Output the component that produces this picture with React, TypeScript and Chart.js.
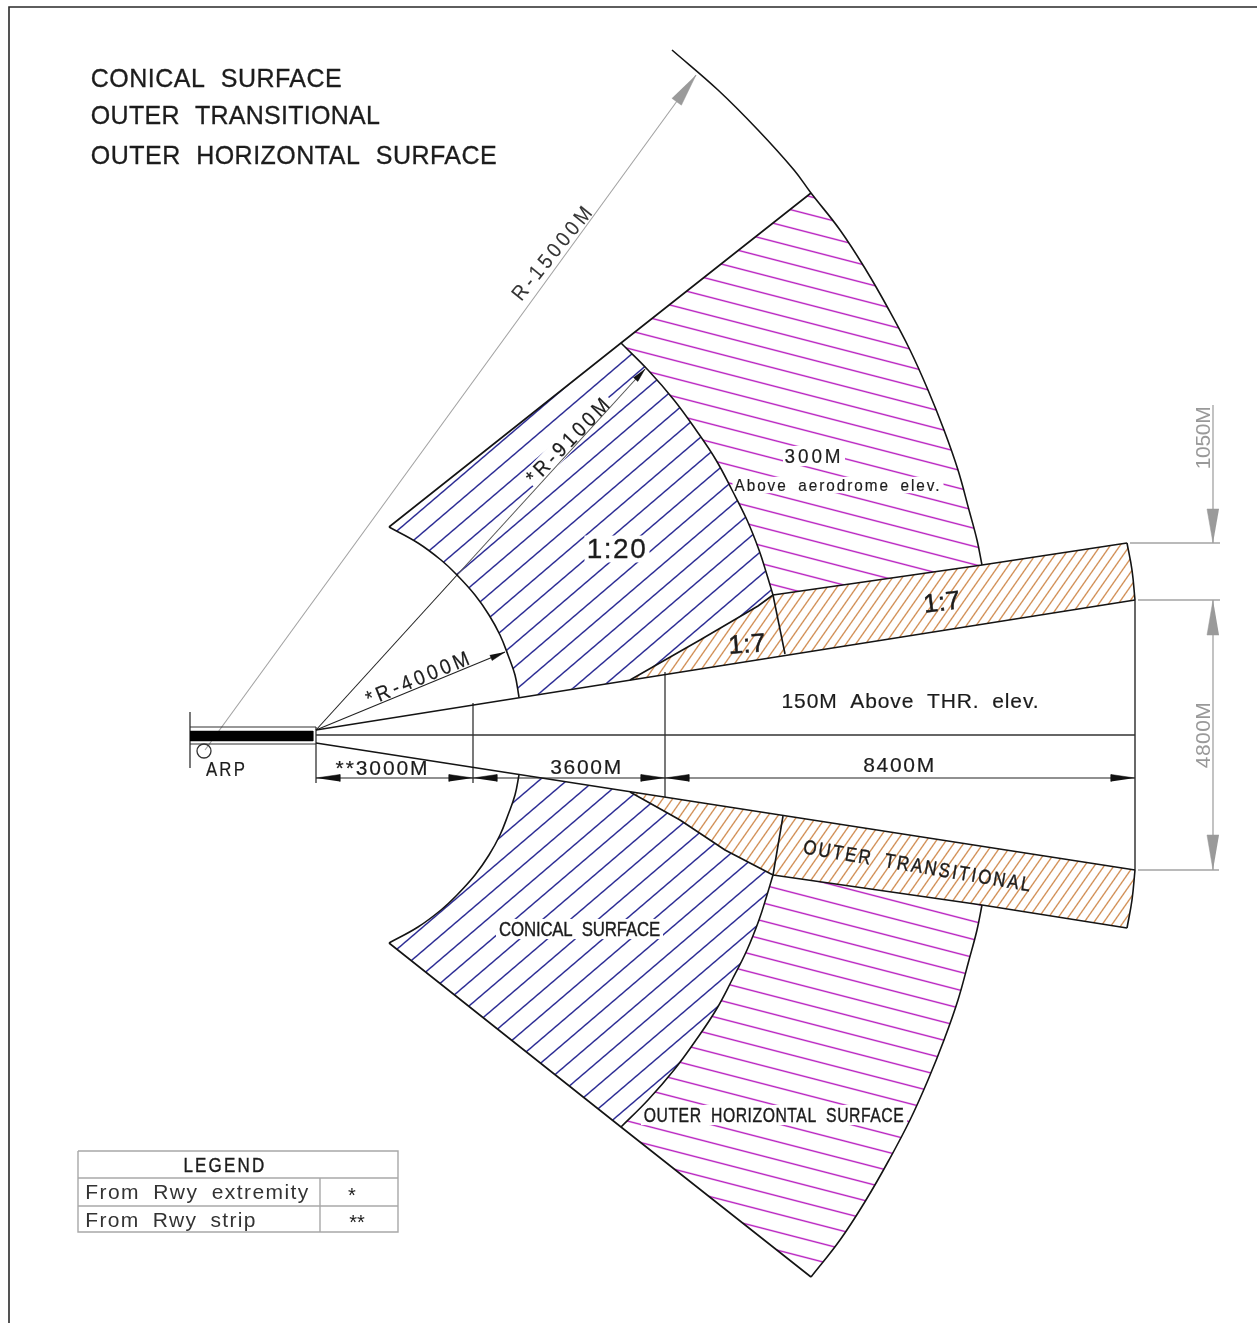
import React, { useEffect, useRef } from "react";
import { Chart, registerables } from "chart.js";

Chart.register(...registerables);

type P = [number, number];

// Diagram geometry (x to the right, y downwards)
const outerArcUpper: P[] = [[672,50],[718,90],[758,130],[794,170],[811,193],[840,230],[866,270],[889,310],[910,350],[928,390],[944,430],[958,470],[969,510],[977,540],[982,565]];
const outerArcLower: P[] = [[982,905],[977,930],[969,960],[958,1000],[944,1040],[928,1080],[910,1120],[889,1160],[866,1200],[840,1240],[811,1277]];
const midArcUpper: P[] = [[621,343],[648,370],[674,400],[696,430],[716,460],[732,490],[747,520],[759,550],[767,575],[773,595]];
const midArcUpperTail: P[] = [[773,595],[785,654]];
const midArcLower: P[] = [[773,875],[767,895],[759,920],[747,950],[732,980],[716,1010],[696,1040],[674,1070],[648,1100],[621,1127]];
const midArcLowerTail: P[] = [[773,875],[783,816]];
const innerArcUpper: P[] = [[389,527],[418,543],[441,560],[456,574],[475,595],[489,615],[500,635],[508,655],[515,675],[519,697]];
const innerArcLower: P[] = [[519,775],[515,795],[508,815],[500,835],[489,855],[475,875],[456,896],[441,910],[418,927],[389,943]];
const radialUpper: P[] = [[389,527],[621,343],[811,193]];
const radialLower: P[] = [[389,943],[621,1127],[811,1277]];
const funnelUpper: P[] = [[316,730],[1135,600]];
const funnelLower: P[] = [[316,743],[1135,870]];
const splayUpper: P[] = [[630,680],[700,640],[758,606],[773,595]];
const splayLower: P[] = [[630,792],[680,820],[725,850],[773,875]];
const shoulderUpper: P[] = [[773,595],[982,565],[1127,543]];
const shoulderLower: P[] = [[773,875],[982,905],[1127,928]];
const endCapUpper: P[] = [[1127,543],[1132,570],[1135,600]];
const endCapLower: P[] = [[1135,870],[1132,900],[1127,928]];

const centreLine: P[] = [[316,735],[1135,735]];
const runwayEdgeTop: P[] = [[190,727],[316,727]];
const runwayEdgeBottom: P[] = [[190,744],[316,744]];
const runwayEndLeft: P[] = [[190,712],[190,768]];
const runwayEndRight: P[] = [[316,727],[316,783]];
const runwayBar: P[] = [[190,731],[313,731],[313,741],[190,741]];
const arpMarker: P[] = [[204,751]];
const station3000: P[] = [[473,703],[473,783]];
const station6600: P[] = [[665,672],[665,797]];
const station15000: P[] = [[1135,600],[1135,870]];
const dimensionLine: P[] = [[316,778],[1135,778]];

const arrowHeadsBlack: P[][] = [
  [[316,778],[340,774.5],[340,781.5]],
  [[473,778],[449,774.5],[449,781.5]],
  [[473,778],[497,774.5],[497,781.5]],
  [[665,778],[641,774.5],[641,781.5]],
  [[665,778],[689,774.5],[689,781.5]],
  [[1135,778],[1111,774.5],[1111,781.5]],
  [[645,369],[637.8,381.4],[633.4,377.4]],
  [[505,652],[492.1,660.5],[489.9,654.9]],
];
const arrowHeadsGrey: P[][] = [
  [[696,75],[681.4,105.2],[671.8,98.2]],
  [[1213,543],[1207,509],[1219,509]],
  [[1213,600],[1207,635],[1219,635]],
  [[1213,870],[1207,835],[1219,835]],
];

const radius4000: P[] = [[316,730],[505,652]];
const radius9100Start: P[] = [[316,730],[458,574]];
const radius9100End: P[] = [[458,574],[645,369]];
const radius15000: P[] = [[205,750],[696,75]];
const greyDim1050: P[] = [[1213,405],[1213,543]];
const greyDim4800: P[] = [[1213,600],[1213,870]];
const greyExt1: P[] = [[1130,543],[1220,543]];
const greyExt2: P[] = [[1138,600],[1220,600]];
const greyExt3: P[] = [[1138,870],[1219,870]];

const frameLines: P[] = [[9,1323],[9,7],[1257,7]];
const legendFrame: P[] = [[78,1151],[398,1151],[398,1232],[78,1232],[78,1151]];
const legendRow1: P[] = [[78,1178],[398,1178]];
const legendRow2: P[] = [[78,1206],[398,1206]];
const legendCol: P[] = [[320,1178],[320,1232]];

// Texts
const headerTexts = ["CONICAL SURFACE", "OUTER TRANSITIONAL", "OUTER HORIZONTAL SURFACE"];
const surfaceTexts = ["CONICAL SURFACE", "OUTER TRANSITIONAL", "OUTER HORIZONTAL SURFACE"];
const slopeTexts = ["1:20", "1:7", "1:7"];
const heightTexts = ["300M", "Above aerodrome elev.", "150M Above THR. elev."];
const radiusTexts = ["R-15000M", "*R-9100M", "*R-4000M"];
const dimensionTexts = ["**3000M", "3600M", "8400M", "ARP"];
const greyDimensionTexts = ["1050M", "4800M"];
const legendTexts = ["LEGEND", "From Rwy extremity", "From Rwy strip", "*", "**"];

type Label = { t: string; x: number; y: number; w: number; s: number; r?: number; c?: string; h?: number; ws?: number; k?: boolean; sq?: number };
const INK = "#1c1c1c";
const labels: Label[] = [
  { t: headerTexts[0], x: 216.5, y: 79, w: 251, s: 25, ws: 8, h: 0.3 },
  { t: headerTexts[1], x: 235.5, y: 116, w: 289, s: 25, ws: 8, h: 0.3 },
  { t: headerTexts[2], x: 294, y: 156, w: 406, s: 25, ws: 8, h: 0.3 },
  { t: surfaceTexts[0], x: 579.5, y: 929, w: 161, s: 21, ws: 6, k: true, h: 0.4, sq: 0.8 },
  { t: surfaceTexts[1], x: 918, y: 866, w: 230, s: 20, r: 9.5, ws: 6, h: 0.4, sq: 0.85 },
  { t: surfaceTexts[2], x: 774, y: 1115, w: 260, s: 21, ws: 6, k: true, h: 0.4, sq: 0.75 },
  { t: slopeTexts[0], x: 617, y: 549, w: 59, s: 28, k: true, h: 0.3 },
  { t: slopeTexts[1], x: 942, y: 602, w: 37, s: 26, r: -7, h: 0.5 },
  { t: slopeTexts[2], x: 747, y: 644, w: 37, s: 26, r: -4, h: 0.5 },
  { t: heightTexts[0], x: 814, y: 456, w: 56, s: 21, k: true, h: 0.2, sq: 0.9 },
  { t: heightTexts[1], x: 838, y: 485, w: 205, s: 17, ws: 5, k: true, h: 0.2, sq: 0.9 },
  { t: heightTexts[2], x: 910.5, y: 701, w: 257, s: 21, ws: 6, h: 0.2 },
  { t: radiusTexts[0], x: 553, y: 252, w: 114, s: 21, r: -51, c: "#333", h: 0.1, sq: 0.9 },
  { t: radiusTexts[1], x: 569, y: 440, w: 110, s: 21, r: -46, k: true, h: 0.2, sq: 0.9 },
  { t: radiusTexts[2], x: 419, y: 678, w: 110, s: 21, r: -22.5, h: 0.2, sq: 0.9 },
  { t: dimensionTexts[0], x: 382.5, y: 768, w: 92, s: 21, h: 0.2 },
  { t: dimensionTexts[1], x: 586.5, y: 767, w: 71, s: 21, h: 0.2 },
  { t: dimensionTexts[2], x: 899.5, y: 765, w: 71, s: 21, h: 0.2 },
  { t: dimensionTexts[3], x: 226.5, y: 769, w: 39, s: 21, h: 0.2, sq: 0.8 },
  { t: greyDimensionTexts[0], x: 1203, y: 438, w: 63, s: 21, r: -90, c: "#999" },
  { t: greyDimensionTexts[1], x: 1203, y: 735, w: 66, s: 21, r: -90, c: "#999" },
  { t: legendTexts[0], x: 225, y: 1165, w: 81, s: 20, h: 0.4, sq: 0.85 },
  { t: legendTexts[1], x: 197.5, y: 1192, w: 223, s: 21, ws: 6, c: "#333" },
  { t: legendTexts[2], x: 171, y: 1220, w: 170, s: 21, ws: 6, c: "#333" },
  { t: legendTexts[3], x: 352, y: 1195, w: 0, s: 20 },
  { t: legendTexts[4], x: 357, y: 1222, w: 0, s: 20 },
];

const FONT = '"Liberation Sans"';
const BLUE = "#22228f";
const MAGENTA = "#b81fc0";
const ORANGE = "#cb8040";
const LINE = "#141414";
const GREY = "#a3a3a3";

function hatch(ctx: CanvasRenderingContext2D, color: string, deg: number, spacing: number, ax: number, ay: number, lw: number) {
  const k = 2;
  const h = Math.round(spacing * k);
  const tile = document.createElement("canvas");
  tile.width = 8;
  tile.height = h;
  const t = tile.getContext("2d")!;
  t.fillStyle = color;
  const c = h / 2;
  for (let y = 0; y < h; y++) {
    const a = Math.max(0, Math.min(1, ((lw * k) / 2 + k / 2 - Math.abs(y + 0.5 - c)) / k));
    t.globalAlpha = a;
    t.fillRect(0, y, 8, 1);
  }
  const p = ctx.createPattern(tile, "repeat")!;
  p.setTransform(new DOMMatrix().translate(ax, ay).rotate(deg).scale(1 / k).translate(0, -c));
  return p;
}

const pts = (a: P[]) => a.map(([x, y]) => ({ x, y }));
const stroke = (a: P[], color = LINE, width = 1.6) => ({
  data: pts(a), borderColor: color, borderWidth: width, showLine: true, pointRadius: 0, fill: false,
});
const arc = (a: P[]) => ({ ...stroke(a), tension: 0.4 });
const solid = (a: P[], color: string) => ({
  data: pts(a), borderColor: color, borderWidth: 0.5, backgroundColor: color, showLine: true, pointRadius: 0, fill: "shape",
});
const region = (a: P[], pattern: CanvasPattern) => ({
  data: pts(a), borderWidth: 0, borderColor: "rgba(0,0,0,0)", backgroundColor: pattern, showLine: true, pointRadius: 0, fill: "shape",
});

function setFit(ctx: any, l: Label) {
  const sq = l.sq ?? 1;
  ctx.font = `400 ${l.s}px ${FONT}`;
  ctx.wordSpacing = `${l.ws ?? 0}px`;
  ctx.letterSpacing = "0px";
  if (l.w > 0) {
    const w = ctx.measureText(l.t).width;
    ctx.letterSpacing = `${(l.w / sq - w) / Math.max(1, l.t.length - 1)}px`;
  }
  ctx.scale(sq, 1);
}

const diagramPlugin = {
  id: "diagramText",
  afterDatasetDraw(chart: any, args: any) {
    if (chart.data.datasets[args.index].label !== "knockout") return;
    const ctx = chart.ctx;
    const X = chart.scales.x, Y = chart.scales.y;
    ctx.save();
    ctx.fillStyle = "#fff";
    for (const l of labels.filter((q) => q.k)) {
      ctx.save();
      ctx.translate(X.getPixelForValue(l.x), Y.getPixelForValue(l.y));
      ctx.rotate(((l.r ?? 0) * Math.PI) / 180);
      ctx.fillRect(-l.w / 2 - 3, -l.s * 0.48, l.w + 6, l.s * 0.96);
      ctx.restore();
    }
    ctx.restore();
  },
  afterDraw(chart: any) {
    const ctx = chart.ctx;
    const X = chart.scales.x, Y = chart.scales.y;
    for (const l of labels) {
      ctx.save();
      ctx.translate(X.getPixelForValue(l.x), Y.getPixelForValue(l.y));
      ctx.rotate(((l.r ?? 0) * Math.PI) / 180);
      setFit(ctx, l);
      ctx.fillStyle = l.c ?? INK;
      ctx.textAlign = "center";
      ctx.textBaseline = "middle";
      const dy = l.s * 0.05;
      ctx.fillText(l.t, 0, dy);
      if (l.h) {
        ctx.strokeStyle = l.c ?? INK;
        ctx.lineWidth = l.h;
        ctx.strokeText(l.t, 0, dy);
      }
      ctx.restore();
    }
  },
};

export default function App() {
  const ref = useRef<HTMLCanvasElement>(null);
  useEffect(() => {
    const canvas = ref.current!;
    const ctx = canvas.getContext("2d")!;
    const blueUpper = [...innerArcUpper, ...splayUpper, ...[...midArcUpper].reverse()];
    const magentaUpper = [...radialUpper.slice(1), ...outerArcUpper.slice(4), ...shoulderUpper.slice(0, 2).reverse(), ...[...midArcUpper].reverse()];
    const orangeUpper = [...splayUpper, ...shoulderUpper.slice(1), ...endCapUpper.slice(1), [630, 680] as P];
    const blueLower = [...innerArcLower, ...[...midArcLower].reverse(), ...[...splayLower].reverse()];
    const magentaLower = [...shoulderLower.slice(0, 1), ...outerArcLower, ...[...midArcLower].reverse()];
    const orangeLower = [...splayLower, ...shoulderLower.slice(1), ...[...endCapLower].reverse().slice(1)];

    const datasets: any[] = [
      // top of the stack first
      ...arrowHeadsBlack.map((a) => solid(a, "#111")),
      ...arrowHeadsGrey.map((a) => solid(a, "#9a9a9a")),
      solid(runwayBar, "#000"),
      { data: pts(arpMarker), showLine: false, pointRadius: 7, pointBorderColor: "#333", pointBorderWidth: 1.3, pointBackgroundColor: "rgba(0,0,0,0)" },
      arc(outerArcUpper), arc(outerArcLower),
      arc(midArcUpper), stroke(midArcUpperTail), arc(midArcLower), stroke(midArcLowerTail),
      arc(innerArcUpper), arc(innerArcLower),
      stroke(radialUpper), stroke(radialLower),
      stroke(funnelUpper), stroke(funnelLower),
      stroke(splayUpper), stroke(splayLower),
      stroke(shoulderUpper), stroke(shoulderLower),
      arc(endCapUpper), arc(endCapLower),
      stroke(centreLine, "#333", 1.3),
      stroke(runwayEdgeTop, "#333", 1.1), stroke(runwayEdgeBottom, "#333", 1.1),
      stroke(runwayEndLeft, "#333", 1.3), stroke(runwayEndRight, "#333", 1.3),
      stroke(station3000, "#333", 1.3), stroke(station6600, "#333", 1.3), stroke(station15000, "#444", 1.6),
      stroke(dimensionLine, "#222", 1.2),
      stroke(radius4000, "#222", 1.1), stroke(radius9100Start, "#222", 1.1), stroke(radius9100End, "#555", 1.1),
      stroke(radius15000, GREY, 1.1),
      stroke(greyDim1050, GREY, 1.3), stroke(greyDim4800, GREY, 1.3),
      stroke(greyExt1, GREY, 1.3), stroke(greyExt2, GREY, 1.3), stroke(greyExt3, GREY, 1.3),
      stroke(frameLines, "#2a2a2a", 1.6),
      stroke(legendFrame, "#a8a8a8", 1.4), stroke(legendRow1, "#a8a8a8", 1.4), stroke(legendRow2, "#a8a8a8", 1.4), stroke(legendCol, "#a8a8a8", 1.4),
      region(orangeUpper, hatch(ctx, ORANGE, -55, 8, 800, 640, 1.2)),
      region(orangeLower, hatch(ctx, ORANGE, -55, 8, 800, 840, 1.2)),
      { label: "knockout", data: [], showLine: false, pointRadius: 0 },
      region(blueUpper, hatch(ctx, BLUE, -40.5, 18, 398, 530, 1.4)),
      region(blueLower, hatch(ctx, BLUE, -40.5, 18, 412, 960, 1.4)),
      region(magentaUpper, hatch(ctx, MAGENTA, 14.5, 17.5, 788, 209, 1.4)),
      region(magentaLower, hatch(ctx, MAGENTA, 14.5, 17.5, 655, 1092, 1.4)),
    ];

    const chart = new Chart(canvas, {
      type: "scatter",
      data: { datasets },
      plugins: [diagramPlugin],
      options: {
        animation: false,
        responsive: false,
        layout: { padding: 0, autoPadding: false },
        elements: { line: { tension: 0 } },
        plugins: { legend: { display: false }, tooltip: { enabled: false } },
        scales: {
          x: { type: "linear", min: 0, max: 1257, display: false },
          y: { type: "linear", min: 0, max: 1323, reverse: true, display: false },
        },
      },
    } as any);
    return () => chart.destroy();
  }, []);
  return (
    <div style={{ position: "absolute", left: 0, top: 0 }}>
      <canvas ref={ref} width={1257} height={1323} style={{ display: "block", width: 1257, height: 1323, filter: "blur(0.3px)" }} />
    </div>
  );
}
